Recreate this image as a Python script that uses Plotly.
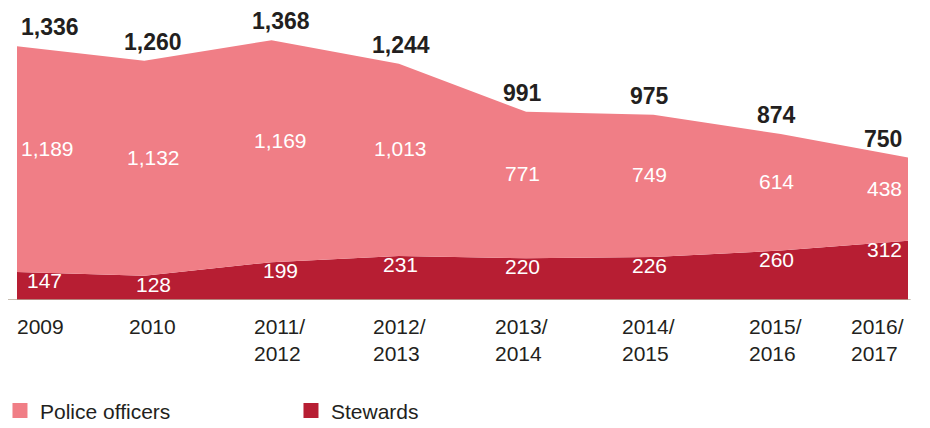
import plotly.graph_objects as go

# data
categories = ['2009', '2010', '2011/<br>2012', '2012/<br>2013', '2013/<br>2014',
              '2014/<br>2015', '2015/<br>2016', '2016/<br>2017']
stewards = [147, 128, 199, 231, 220, 226, 260, 312]
police = [1189, 1132, 1169, 1013, 771, 749, 614, 438]
totals = [s + p for s, p in zip(stewards, police)]

police_color = '#f07e86'
steward_color = '#b71e33'
font_family = 'Liberation Sans, Arial, sans-serif'

x = list(range(len(categories)))
last = len(categories) - 1

fig = go.Figure()

# stacked areas, stewards at the bottom
fig.add_trace(go.Scatter(x=x, y=stewards, stackgroup='one', mode='none',
                         fillcolor=steward_color, showlegend=False, hoverinfo='skip'))
fig.add_trace(go.Scatter(x=x, y=police, stackgroup='one', mode='none',
                         fillcolor=police_color, showlegend=False, hoverinfo='skip'))

# square legend markers
fig.add_trace(go.Scatter(x=[None], y=[None], mode='markers', name='Police officers',
                         marker=dict(symbol='square', size=15, color=police_color)))
fig.add_trace(go.Scatter(x=[None], y=[None], mode='markers', name='Stewards',
                         marker=dict(symbol='square', size=15, color=steward_color)))


def anchor(i):
    # first label hangs right of the edge, last one left of it,
    # the rest sit roughly on their point (slightly right early on, left later)
    if i == 0:
        return 'left', 2
    if i == last:
        return 'right', -4
    if i < 3:
        return 'center', 9
    if i == 3:
        return 'center', 2
    return 'center', -4


annotations = []
for i in x:
    xa, xs = anchor(i)
    # totals above the area
    annotations.append(dict(x=i, y=totals[i], text=f'{totals[i]:,}', showarrow=False,
                            xanchor=xa, yanchor='bottom', xshift=xs, yshift=4,
                            font=dict(size=23, color='#231f20', family=font_family, weight='bold')))
    # police officers in the middle of the upper band
    annotations.append(dict(x=i, y=stewards[i] + police[i] / 2, text=f'{police[i]:,}',
                            showarrow=False, xanchor=xa, yanchor='middle', xshift=xs, yshift=11,
                            font=dict(size=21, color='white', family=font_family)))
    # stewards just under the boundary
    annotations.append(dict(x=i, y=stewards[i], text=f'{stewards[i]:,}', showarrow=False,
                            xanchor=xa, yanchor='top', xshift=xs + (6 if i == 0 else 0), yshift=5,
                            font=dict(size=21, color='white', family=font_family)))
    # category labels below the axis
    cxa, cxs = ('left', -2) if i == 0 else (('right', -2) if i == last else ('center', xs - 1))
    annotations.append(dict(x=i, y=0, text=categories[i], showarrow=False, align='left',
                            xanchor=cxa, yanchor='top', xshift=cxs, yshift=-13,
                            font=dict(size=21, color='#231f20', family=font_family)))

# the page adds an 8px body margin, so the figure is 8px smaller on each side
fig.update_layout(
    width=922, height=420,
    margin=dict(l=9, r=22, t=12, b=128, autoexpand=False),
    paper_bgcolor='white', plot_bgcolor='white',
    font=dict(family=font_family, size=21, color='#231f20'),
    xaxis=dict(range=[0, last], visible=False),
    yaxis=dict(range=[0, 1474], visible=False),
    annotations=annotations,
    shapes=[dict(type='line', xref='paper', yref='y', x0=-0.015, x1=1.003, y0=0, y1=0,
                 line=dict(color='#b5a797', width=1.5))],
    legend=dict(orientation='h', x=-0.0191, xanchor='left', y=-0.396, yanchor='middle',
                traceorder='normal', entrywidth=246, entrywidthmode='pixels',
                font=dict(size=21, color='#231f20', family=font_family)),
    showlegend=True,
)

fig.write_html('out.html')
